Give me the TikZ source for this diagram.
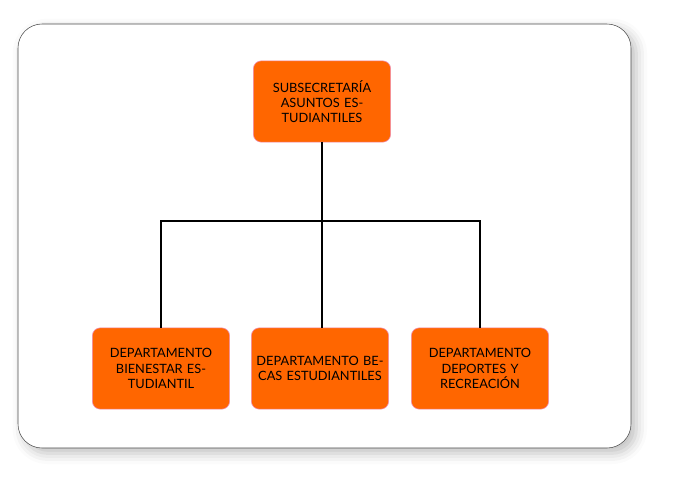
\documentclass[tikz,border=0pt]{standalone}
\usepackage{fontspec}
\setmainfont{Lato}
\usetikzlibrary{positioning,shadows.blur}
\definecolor{boxorange}{HTML}{FF6600}
\definecolor{boxedge}{HTML}{F08CB4}

\begin{document}
\begin{tikzpicture}
    [ x = .75pt, y = -.75pt
    , unit/.style =
      { draw = boxedge, fill = boxorange, rounded corners = 6pt
      , minimum width = 103pt, minimum height = 61pt
      , text width = 96pt, align = center, inner sep = 2pt
      , font = \fontsize{9.6}{11.5}\selectfont }
    , link/.style =
      { thick, black }
    ]
    \useasboundingbox (0,0) rectangle (678,490);
    \draw [fill=white, draw=black!70, rounded corners=18pt,
      blur shadow={shadow xshift=4pt, shadow yshift=-4pt, shadow blur radius=8pt, shadow opacity=25}]
      (18,24) rectangle (631,448);

    \node [unit] (top) at (322,101.5) {SUBSECRETARÍA ASUNTOS ESTUDIANTILES};
    \node [unit] (bien) at (161,368.5) {DEPARTAMENTO BIENESTAR ESTUDIANTIL};
    \node [unit] (becas) at (320,368.5) {DEPARTAMENTO BECAS ESTUDIANTILES};
    \node [unit] (dep) at (480,368.5) {DEPARTAMENTO DEPORTES Y RECREACIÓN};

    \coordinate (hub) at (322,221);
    \draw [link] (top) -- (hub);
    \draw [link] (hub) -| (bien);
    \draw [link] (hub) -| (dep);
    \draw [link] (hub) -- (hub |- becas.north);
\end{tikzpicture}
\end{document}
